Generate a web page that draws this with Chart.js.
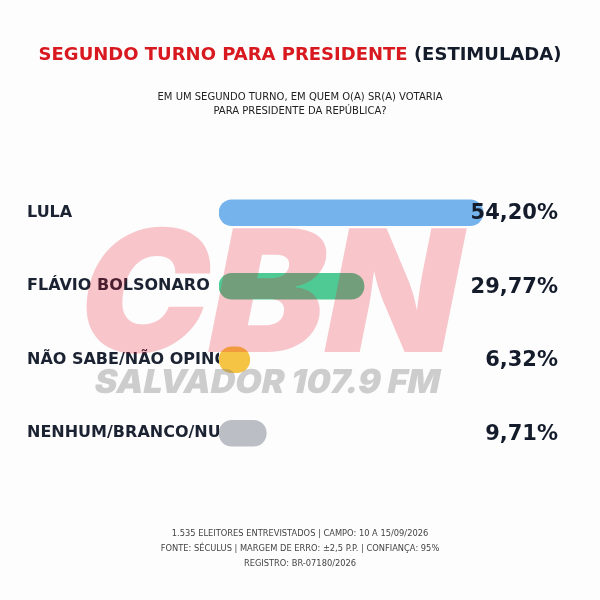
<!DOCTYPE html>
<html>
<head>
<meta charset="utf-8">
<script src="https://cdn.jsdelivr.net/npm/chart.js@4.4.1/dist/chart.umd.min.js"></script>
<style>
  body { margin: 0; background: #fdfdfd; }
  #wrap { position: relative; width: 600px; height: 600px; overflow: hidden; font-family: 'DejaVu Sans', sans-serif; }
  #chart { position: absolute; left: 0; top: 0; }
  .title { position: absolute; top: 43px; left: 0; width: 600px; text-align: center; font-weight: bold; font-size: 18px; color: #141c2b; }
  .title span { color: #d8191f; }
  .sub { position: absolute; top: 90px; left: 0; width: 600px; text-align: center; font-size: 10px; line-height: 14px; color: #222; }
  .foot { position: absolute; top: 526px; left: 0; width: 600px; text-align: center; font-size: 8.3px; line-height: 15px; color: #444; }
</style>
</head>
<body>
<div id="wrap">
  <canvas id="chart" width="600" height="600"></canvas>
  <div class="title"><span>SEGUNDO TURNO PARA PRESIDENTE</span> (ESTIMULADA)</div>
  <div class="sub">EM UM SEGUNDO TURNO, EM QUEM O(A) SR(A) VOTARIA<br>PARA PRESIDENTE DA REPÚBLICA?</div>
  <div class="foot">1.535 ELEITORES ENTREVISTADOS | CAMPO: 10 A 15/09/2026<br>FONTE: SÉCULUS | MARGEM DE ERRO: ±2,5 P.P. | CONFIANÇA: 95%<br>REGISTRO: BR-07180/2026</div>
</div>
<script>
// dados da pesquisa
var candidatos = ["LULA", "FLÁVIO BOLSONARO", "NÃO SABE/NÃO OPINOU", "NENHUM/BRANCO/NULO"];
var percentuais = [54.20, 29.77, 6.32, 9.71];
var rotulos = ["54,20%", "29,77%", "6,32%", "9,71%"];
var cores = ["#74b3ec", "#50ca95", "#f5c445", "#bbbec5"];

var canvas = document.getElementById("chart");

// texto da marca d'agua: fonte bem pesada, inclinada a mao e esticada ate a largura certa
function marca(ctx, texto, tam, x, yBase, largura, cor) {
  ctx.save();
  ctx.font = "900 " + tam + "px Inter, 'DejaVu Sans'";
  ctx.textBaseline = 'alphabetic';
  var w = ctx.measureText(texto).width;
  var inclina = 0.2;
  var sx = (largura - inclina * tam * 0.727) / w;
  ctx.translate(x, yBase);
  ctx.transform(1, 0, -inclina, 1, 0, 0);
  ctx.scale(sx, 1);
  ctx.fillStyle = cor;
  ctx.fillText(texto, 0, 0);
  ctx.restore();
}

// fundo + marca d'agua
const marcaDagua = {
  id: 'marca_dagua',
  beforeDraw: (chart) => {
    const {ctx} = chart;
    ctx.save();
    ctx.fillStyle = '#fdfdfd';
    ctx.fillRect(0, 0, chart.width, chart.height);
    ctx.restore();
  },
  afterDraw: (chart) => {
    const {ctx} = chart;
    marca(ctx, "CBN", 170, 70, 352, 405, 'rgba(228, 20, 40, 0.24)');
    marca(ctx, "SALVADOR 107.9 FM", 33, 93, 393, 350, 'rgba(120, 120, 120, 0.36)');
  }
};

// percentuais a direita
const valores = {
  id: 'valores',
  afterDatasetsDraw: (chart) => {
    const {ctx} = chart;
    const meta = chart.getDatasetMeta(0);
    ctx.save();
    ctx.font = "bold 21px 'DejaVu Sans'";
    ctx.fillStyle = '#141c2b';
    ctx.textAlign = 'right';
    ctx.textBaseline = 'middle';
    meta.data.forEach(function(bar, i) {
      ctx.fillText(rotulos[i], 558, bar.y + 1);
    });
    ctx.restore();
  }
};

new Chart(canvas, {
  type: 'bar',
  plugins: [marcaDagua, valores],
  data: {
    labels: candidatos,
    datasets: [{
      data: percentuais,
      backgroundColor: cores,
      borderWidth: 0,
      borderRadius: 13,
      borderSkipped: false,
      barThickness: 26
    }]
  },
  options: {
    indexAxis: 'y',
    responsive: false,
    animation: false,
    layout: { padding: { left: 27, right: 40, top: 176, bottom: 130 } },
    plugins: { legend: { display: false }, tooltip: { enabled: false }, title: { display: false } },
    scales: {
      x: { display: false, min: 0, max: 70 },
      y: {
        grid: { display: false },
        border: { display: false },
        afterFit: function(scale) { scale.width = 192; },
        ticks: {
          autoSkip: false,
          crossAlign: 'far',
          padding: 0,
          color: '#1b2232',
          font: { family: 'DejaVu Sans', size: 16, weight: 'bold' }
        }
      }
    }
  }
});
</script>
</body>
</html>
